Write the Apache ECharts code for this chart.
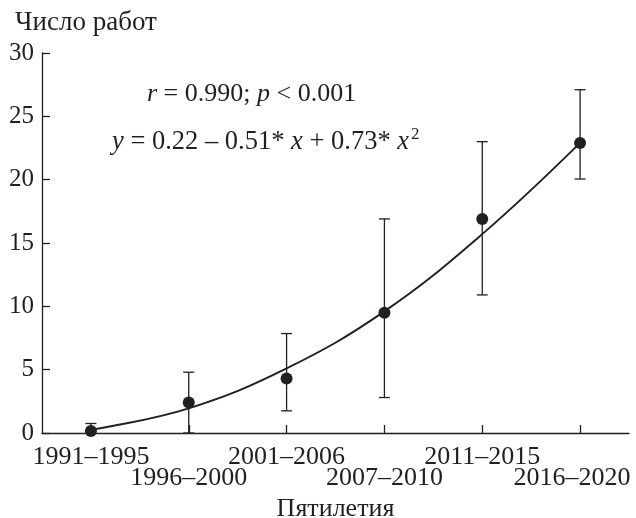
<!DOCTYPE html>
<html>
<head>
<meta charset="utf-8">
<script src="https://cdn.jsdelivr.net/npm/echarts@6/dist/echarts.min.js"></script>
<style>html,body{margin:0;padding:0;background:#fff;overflow:hidden}#c{width:636px;height:518px;position:absolute;left:0;top:0}</style>
</head>
<body>
<div id="c"></div>
<script>
var categories = ['1991\u20131995', '1996\u20132000', '2001\u20132006', '2007\u20132010', '2011\u20132015', '2016\u20132020'];
var meanValues = [0.15, 2.4, 4.3, 9.5, 16.9, 22.9];
var upperValues = [0.75, 4.8, 7.85, 16.9, 23.0, 27.1];
var lowerValues = [0, 0, 1.75, 2.8, 10.9, 20.05];
var fitValues = [0.25, 1.95, 5.1, 9.6, 15.7, 22.9];
var yTicks = [0, 5, 10, 15, 20, 25, 30];

var INK = '#231f20';
var FONT = 'Liberation Serif';

var errData = categories.map(function (c, i) { return [i, lowerValues[i], upperValues[i]]; });

var chart = echarts.init(document.getElementById('c'), null, { width: 636, height: 518 });
chart.setOption({
  animation: false,
  backgroundColor: '#fff',
  textStyle: { fontFamily: FONT, color: INK },
  title: {
    text: 'Число работ', left: 10, top: 4,
    textStyle: { fontFamily: FONT, fontSize: 27, fontWeight: 'normal', color: INK }
  },
  grid: { left: 42, right: 7, top: 53, bottom: 85, containLabel: false, outerBoundsMode: 'none' },
  xAxis: {
    type: 'category',
    data: categories,
    boundaryGap: true,
    axisLine: { lineStyle: { color: INK, width: 1.3 } },
    axisTick: { show: true, inside: true, alignWithLabel: true, length: 8, lineStyle: { color: INK, width: 1.3 } },
    axisLabel: {
      interval: 0, margin: 14, fontFamily: FONT, fontSize: 26, color: INK, lineHeight: 21,
      formatter: function (v, i) {
        if (i === categories.length - 1) return '\n{last|' + v + '}';
        return i % 2 ? '\n' + v : v;
      },
      rich: { last: { fontFamily: FONT, fontSize: 26, color: INK, lineHeight: 21, padding: [0, 16, 0, 0] } }
    },
    name: 'Пятилетия', nameLocation: 'middle', nameGap: 63,
    nameTextStyle: { fontFamily: FONT, fontSize: 26, color: INK }
  },
  yAxis: {
    type: 'value', min: 0, max: 30, interval: 5,
    axisLine: { show: true, lineStyle: { color: INK, width: 1.3 } },
    axisTick: { show: true, inside: true, length: 8, lineStyle: { color: INK, width: 1.3 } },
    splitLine: { show: false },
    axisLabel: {
      margin: 8, fontFamily: FONT, fontSize: 25, color: INK,
      formatter: function (v) { return yTicks.indexOf(v) >= 0 ? String(v) : ''; }
    }
  },
  graphic: [
    {
      type: 'text', left: 147, top: 81,
      style: {
        text: '{i|r} = 0.990; {i|p} < 0.001',
        font: '26px "Liberation Serif"', fill: INK,
        rich: { i: { fontFamily: FONT, fontStyle: 'italic', fontSize: 26, fill: INK } }
      }
    },
    {
      type: 'text', left: 112, top: 126,
      style: {
        text: '{i|y} = 0.22 – 0.51* {i|x} + 0.73* {i|x}{s|2}',
        font: '26.5px "Liberation Serif"', fill: INK,
        rich: {
          i: { fontFamily: FONT, fontStyle: 'italic', fontSize: 26.5, fill: INK },
          s: { fontFamily: FONT, fontSize: 17, fill: INK, padding: [0, 0, 15, 2] }
        }
      }
    }
  ],
  series: [
    {
      type: 'custom',
      renderItem: function (params, api) {
        var x = api.value(0);
        var lo = api.coord([x, api.value(1)]);
        var hi = api.coord([x, api.value(2)]);
        var w = 5.5;
        var style = { stroke: INK, lineWidth: 1.3 };
        return {
          type: 'group',
          children: [
            { type: 'line', shape: { x1: hi[0], y1: hi[1], x2: lo[0], y2: lo[1] }, style: style },
            { type: 'line', shape: { x1: hi[0] - w, y1: hi[1], x2: hi[0] + w, y2: hi[1] }, style: style },
            { type: 'line', shape: { x1: lo[0] - w, y1: lo[1], x2: lo[0] + w, y2: lo[1] }, style: style }
          ]
        };
      },
      encode: { x: 0, y: [1, 2] },
      data: errData,
      z: 2
    },
    {
      type: 'line', data: fitValues, smooth: 0.4, showSymbol: false,
      lineStyle: { color: INK, width: 1.9 }, z: 3
    },
    {
      type: 'scatter', data: meanValues, symbol: 'circle', symbolSize: 12,
      itemStyle: { color: INK, opacity: 1 }, z: 4
    }
  ]
});
</script>
</body>
</html>
